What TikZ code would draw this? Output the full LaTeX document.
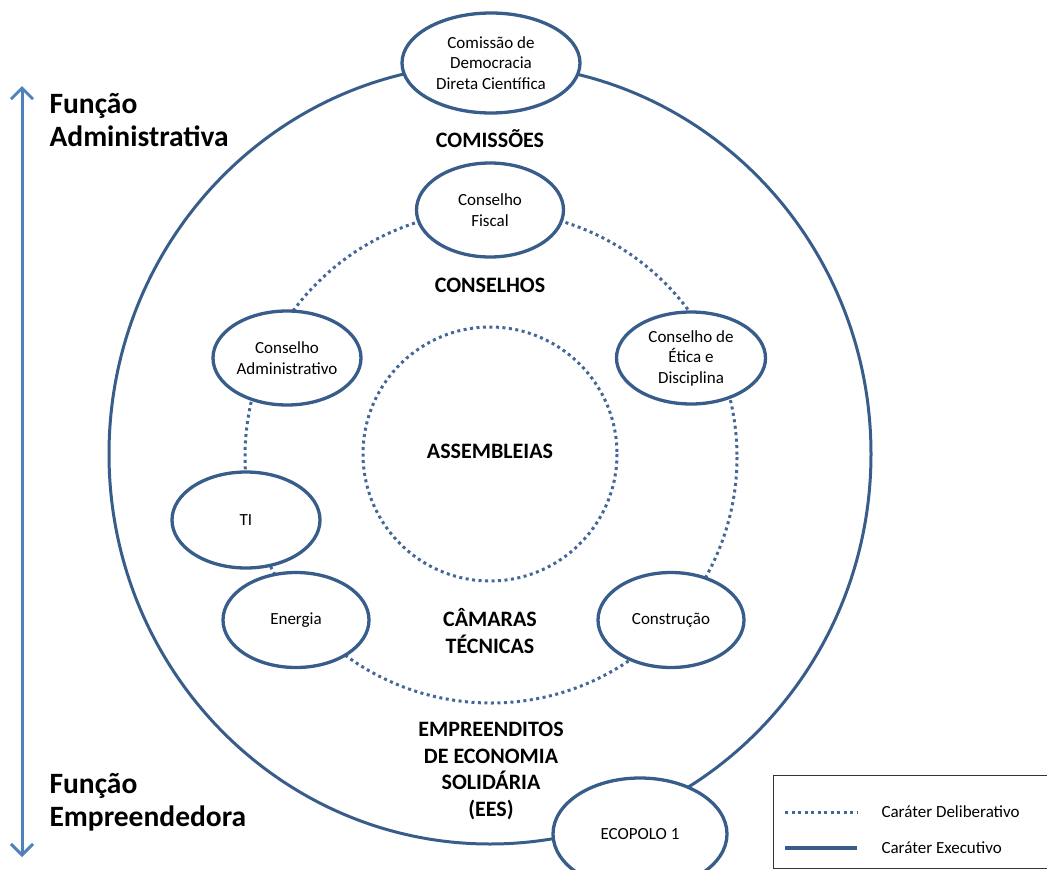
\documentclass[tikz,border=0pt]{standalone}
\usepackage{fontspec}
\setmainfont{Carlito}
\usepackage{xcolor}
\usetikzlibrary{arrows.meta}
\usetikzlibrary{shapes.geometric}

\definecolor{ringblue}{HTML}{385D8A}
\definecolor{dotblue}{HTML}{44679A}
\definecolor{arrowblue}{HTML}{4F81BD}

\begin{document}
\begin{tikzpicture}[x=1pt,y=-1pt]
	%\draw[help lines] (0,0) grid (1047,870);
	\useasboundingbox (0,0) rectangle (1047,870);

	\tikzstyle{enode} = [ellipse,draw=ringblue,line width=3.3pt,fill=white,inner sep=0pt,align=center,font=\fontsize{17}{20.5}\selectfont]
	\tikzstyle{lnode} = [align=center,font=\bfseries\fontsize{22}{26.5}\selectfont]
	\tikzstyle{fnode} = [align=left,anchor=west,font=\bfseries\fontsize{29.5}{33}\selectfont]
	\tikzstyle{solidring} = [draw=ringblue,line width=3pt]
	\tikzstyle{dotring} = [draw=dotblue,line width=3pt,dash pattern=on 3pt off 3.5pt]
	\tikzstyle{farrow} = [arrowblue,line width=3pt,{Straight Barb[length=11pt,width=22pt]}-{Straight Barb[length=11pt,width=22pt]}]

	% circles
	\draw[solidring] (490,454) ellipse [x radius=381, y radius=390];
	\draw[dotring] (491,457) circle [radius=246];
	\draw[dotring] (490,454) circle [radius=127];

	% ellipses
	\node[enode,minimum width=178pt,minimum height=100pt] (comissao) at (491,63) {Comissão de\\Democracia\\Direta Científica};
	\node[enode,minimum width=147pt,minimum height=94pt] (fiscal) at (490,210) {Conselho\\Fiscal};
	\node[enode,minimum width=148pt,minimum height=94pt] (admin) at (287,358) {Conselho\\Administrativo};
	\node[enode,minimum width=149pt,minimum height=92pt] (etica) at (691,358) {Conselho de\\Ética e\\Disciplina};
	\node[enode,minimum width=148pt,minimum height=96pt] (ti) at (246,520) {TI};
	\node[enode,minimum width=146pt,minimum height=95pt] (energia) at (296,620) {Energia};
	\node[enode,minimum width=146pt,minimum height=95pt] (construcao) at (671,620) {Construção};
	\node[enode,minimum width=174pt,minimum height=112pt] (ecopolo) at (640,834) {ECOPOLO 1};

	% labels
	\node[lnode,anchor=base] (lcomissoes) at (490,147) {COMISSÕES};
	\node[lnode,anchor=base] (lconselhos) at (490,292) {CONSELHOS};
	\node[lnode,anchor=base] (lassembleias) at (490,458) {ASSEMBLEIAS};
	\node[lnode] (lcamaras) at (490,631) {CÂMARAS\\TÉCNICAS};
	\node[lnode] (lees) at (491,771) {EMPREENDITOS\\DE ECONOMIA\\SOLIDÁRIA\\(EES)};

	% left axis
	\coordinate (ftop) at (22,86);
	\coordinate (fbot) at (22,857);
	\draw[farrow] (ftop) -- (fbot);
	\node[fnode] (ladmin) at (46,120) {Função\\Administrativa};
	\node[fnode] (lempre) at (46,802) {Função\\Empreendedora};

	% legend
	\node[draw=black!80,line width=1pt,minimum width=276pt,minimum height=93pt,anchor=north west] (legbox) at (773,775) {};
	\coordinate (ld1) at (785,812);
	\coordinate (ld2) at (857,812);
	\coordinate (ls1) at (785,848);
	\coordinate (ls2) at (857,848);
	\draw[dotring] (ld1) -- (ld2);
	\draw[solidring,line width=4pt] (ls1) -- (ls2);
	\node[anchor=west,font=\fontsize{17}{20.5}\selectfont] (ldelib) at (878,812) {Caráter Deliberativo};
	\node[anchor=west,font=\fontsize{17}{20.5}\selectfont] (lexec) at (878,848) {Caráter Executivo};

\end{tikzpicture}
\end{document}
